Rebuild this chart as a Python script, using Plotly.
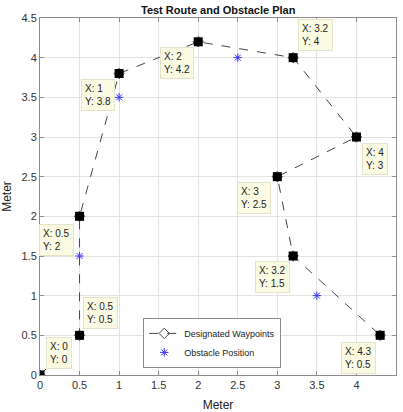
import plotly.graph_objects as go

# Data
wp_x = [0, 0.5, 0.5, 1, 2, 3.2, 4, 3, 3.2, 4.3]
wp_y = [0, 0.5, 2, 3.8, 4.2, 4, 3, 2.5, 1.5, 0.5]
obs_x = [1, 2.5, 0.5, 3.5]
obs_y = [3.5, 4, 1.5, 1]
tick_vals = [0, 0.5, 1, 1.5, 2, 2.5, 3, 3.5, 4, 4.5]
tick_text = ["0", "0.5", "1", "1.5", "2", "2.5", "3", "3.5", "4", "4.5"]

# label placement offsets (pixels) for data tips
tip_dx = [19, 21, -23, -21, -21, 22, 19, -23, -21, -22]
tip_dy = [22, 22, -24, -21, -21, 23, -22, -21, -21, -23]

FONT = "Liberation Sans, Arial, Helvetica, sans-serif"

fig = go.Figure()
fig.add_trace(go.Scatter(
    x=wp_x, y=wp_y, mode="lines+markers", name="Designated Waypoints",
    line=dict(color="#444444", width=1, dash="dash"),
    marker=dict(symbol="diamond-open", size=8, color="#444444", line=dict(width=1)),
))
fig.add_trace(go.Scatter(
    x=obs_x, y=obs_y, mode="markers", name="Obstacle Position",
    marker=dict(symbol="asterisk-open", size=7, color="#3333ff", line=dict(width=1, color="#3333ff")),
))
fig.add_trace(go.Scatter(
    x=wp_x, y=wp_y, mode="markers", showlegend=False,
    marker=dict(symbol="square", size=9, color="black"),
))

for x, y, dx, dy in zip(wp_x, wp_y, tip_dx, tip_dy):
    fig.add_annotation(
        x=x, y=y, xref="x", yref="y", showarrow=False,
        text=f"X: {x:g}<br>Y: {y:g}", align="left",
        xshift=dx, yshift=dy,
        bgcolor="#fbfbe4", bordercolor="#e4e4cc", borderwidth=1, borderpad=3,
        font=dict(family=FONT, size=10, color="#222222"),
    )

axis_common = dict(
    range=[0, 4.5], tickvals=tick_vals, ticktext=tick_text,
    showgrid=True, gridcolor="#e3e3e3", gridwidth=1,
    showline=True, linecolor="#8c8c8c", linewidth=1, mirror="ticks",
    ticks="inside", ticklen=4, tickcolor="#8c8c8c", automargin=False,
    zeroline=False, tickfont=dict(family=FONT, size=11, color="#333333"),
)

fig.update_layout(
    width=403, height=412,
    margin=dict(l=40, r=7, t=18, b=37),
    paper_bgcolor="white", plot_bgcolor="white",
    title=dict(text="<b>Test Route and Obstacle Plan</b>", x=0.5415, xanchor="center",
               y=0.975, yanchor="middle",
               font=dict(family=FONT, size=11, color="#111111")),
    xaxis=dict(axis_common, title=dict(text="Meter", standoff=19,
                                       font=dict(family=FONT, size=12, color="#222222"))),
    yaxis=dict(axis_common, title=dict(text="Meter", standoff=14,
                                       font=dict(family=FONT, size=12, color="#222222"))),
    legend=dict(x=0.29, y=0.16, xanchor="left", yanchor="top",
                bgcolor="white", bordercolor="#8c8c8c", borderwidth=1,
                font=dict(family=FONT, size=9, color="#222222"),
                tracegroupgap=0, itemwidth=30),
    showlegend=True,
)

fig.write_html("out.html")
